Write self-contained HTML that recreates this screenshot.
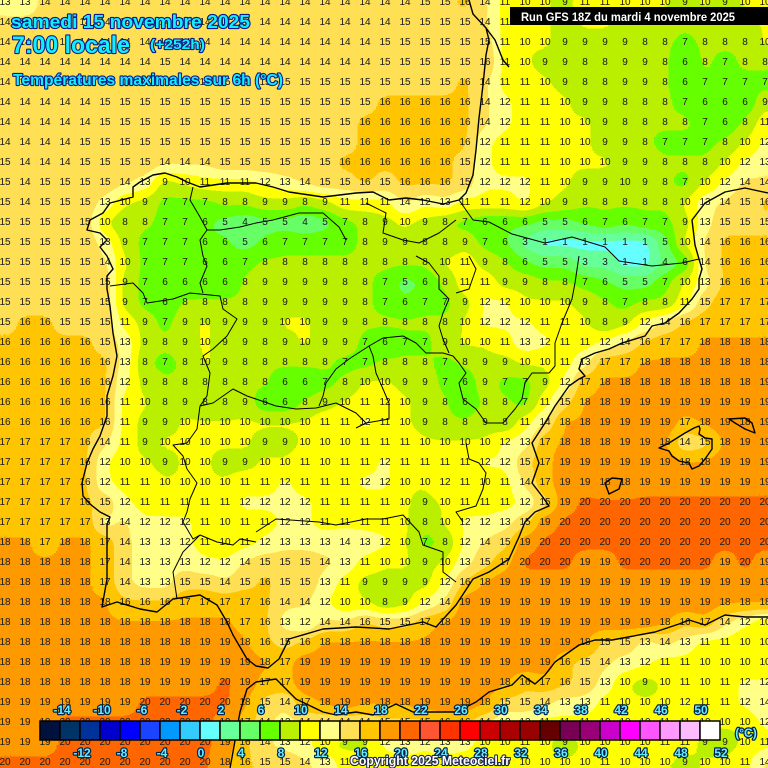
<!DOCTYPE html>
<html><head><meta charset="utf-8">
<style>
html,body{margin:0;padding:0;width:768px;height:768px;overflow:hidden;background:#ffe055}
#w{position:relative;width:768px;height:768px;overflow:hidden}
#g{position:absolute;left:-5px;top:-7px;width:780px;height:780px;filter:url(#F)}
#g div{display:flex;height:20px}
#g i{display:block;flex:none;width:20px;height:20px;font:10px/20px "Liberation Sans",sans-serif;text-align:center;font-style:normal}
[c1]{background:#0e0000;color:#0eff00}
[c2]{background:#180000;color:#18ff00}
[c3]{background:#230000;color:#23ff00}
[c4]{background:#2e0000;color:#2eff00}
[c5]{background:#380000;color:#38ff00}
[c6]{background:#430000;color:#43ff00}
[c7]{background:#4e0000;color:#4eff00}
[c8]{background:#580000;color:#58ff00}
[c9]{background:#630000;color:#63ff00}
[c10]{background:#6d0000;color:#6dff00}
[c11]{background:#780000;color:#78ff00}
[c12]{background:#830000;color:#83ff00}
[c13]{background:#8d0000;color:#8dff00}
[c14]{background:#980000;color:#98ff00}
[c15]{background:#a30000;color:#a3ff00}
[c16]{background:#ad0000;color:#adff00}
[c17]{background:#b80000;color:#b8ff00}
[c18]{background:#c20000;color:#c2ff00}
[c19]{background:#cd0000;color:#cdff00}
[c20]{background:#d80000;color:#d8ff00}
#o{position:absolute;left:0;top:0}
.t{font-family:"Liberation Sans",sans-serif;font-weight:bold;fill:#11eeff;stroke:#0a1a8c;stroke-width:2.2;paint-order:stroke;stroke-linejoin:round}
.l{font-family:"Liberation Sans",sans-serif;font-weight:bold;font-size:12px;fill:#66eeff;stroke:#00204d;stroke-width:2.4;paint-order:stroke;stroke-linejoin:round;text-anchor:middle}
</style></head><body><div id="w">
<svg width="0" height="0" style="position:absolute">
<filter id="F" x="-10%" y="-10%" width="120%" height="120%" color-interpolation-filters="sRGB">
<feColorMatrix in="SourceGraphic" type="matrix" values="1 0 0 0 0 1 0 0 0 0 1 0 0 0 0 0 0 0 1 0" result="v"/>
<feGaussianBlur in="v" stdDeviation="7" result="b"/>
<feComponentTransfer in="b" result="c">
<feFuncR type="discrete" tableValues="0.4 0.4 0.4 0.4 0.733 1 1 1 1 1 1 1"/>
<feFuncG type="discrete" tableValues="1 1 1 1 0.941 1 1 0.878 0.776 0.6 0.4 0.333"/>
<feFuncB type="discrete" tableValues="1 0.6 0.4 0 0 0 0.533 0.333 0 0 0 0.2"/>
<feFuncA type="linear" slope="0" intercept="1"/>
</feComponentTransfer>
<feColorMatrix in="SourceGraphic" type="matrix" values="0 0 0 0 0.12 0 0 0 0 0.12 0 0 0 0 0.12 0 1 0 0 0" result="t"/>
<feMerge><feMergeNode in="c"/><feMergeNode in="t"/></feMerge>
</filter></svg>
<div id="g">
<div><i c13>13</i><i c13>13</i><i c14>14</i><i c14>14</i><i c14>14</i><i c14>14</i><i c14>14</i><i c14>14</i><i c14>14</i><i c14>14</i><i c14>14</i><i c14>14</i><i c14>14</i><i c14>14</i><i c14>14</i><i c14>14</i><i c14>14</i><i c14>14</i><i c14>14</i><i c14>14</i><i c14>14</i><i c15>15</i><i c15>15</i><i c16>16</i><i c14>14</i><i c11>11</i><i c10>10</i><i c10>10</i><i c9>9</i><i c11>11</i><i c11>11</i><i c10>10</i><i c10>10</i><i c10>10</i><i c9>9</i><i c10>10</i><i c9>9</i><i c10>10</i><i c10>10</i></div>
<div><i c14>14</i><i c14>14</i><i c14>14</i><i c14>14</i><i c14>14</i><i c14>14</i><i c14>14</i><i c14>14</i><i c14>14</i><i c14>14</i><i c14>14</i><i c14>14</i><i c14>14</i><i c14>14</i><i c14>14</i><i c14>14</i><i c14>14</i><i c14>14</i><i c14>14</i><i c14>14</i><i c15>15</i><i c15>15</i><i c15>15</i><i c15>15</i><i c14>14</i><i c11>11</i><i c10>10</i><i c10>10</i><i c9>9</i><i c10>10</i><i c10>10</i><i c9>9</i><i c9>9</i><i c9>9</i><i c8>8</i><i c9>9</i><i c8>8</i><i c9>9</i><i c10>10</i></div>
<div><i c14>14</i><i c14>14</i><i c14>14</i><i c14>14</i><i c14>14</i><i c14>14</i><i c14>14</i><i c14>14</i><i c14>14</i><i c14>14</i><i c14>14</i><i c14>14</i><i c14>14</i><i c14>14</i><i c14>14</i><i c14>14</i><i c14>14</i><i c14>14</i><i c14>14</i><i c15>15</i><i c15>15</i><i c15>15</i><i c15>15</i><i c15>15</i><i c15>15</i><i c11>11</i><i c10>10</i><i c10>10</i><i c9>9</i><i c9>9</i><i c9>9</i><i c9>9</i><i c8>8</i><i c8>8</i><i c7>7</i><i c8>8</i><i c8>8</i><i c8>8</i><i c10>10</i></div>
<div><i c14>14</i><i c14>14</i><i c14>14</i><i c14>14</i><i c14>14</i><i c14>14</i><i c14>14</i><i c14>14</i><i c15>15</i><i c14>14</i><i c14>14</i><i c14>14</i><i c14>14</i><i c14>14</i><i c14>14</i><i c14>14</i><i c14>14</i><i c14>14</i><i c14>14</i><i c15>15</i><i c15>15</i><i c15>15</i><i c15>15</i><i c15>15</i><i c16>16</i><i c11>11</i><i c10>10</i><i c9>9</i><i c9>9</i><i c8>8</i><i c8>8</i><i c9>9</i><i c9>9</i><i c8>8</i><i c6>6</i><i c8>8</i><i c7>7</i><i c8>8</i><i c8>8</i></div>
<div><i c14>14</i><i c14>14</i><i c14>14</i><i c14>14</i><i c14>14</i><i c14>14</i><i c14>14</i><i c15>15</i><i c15>15</i><i c15>15</i><i c15>15</i><i c15>15</i><i c15>15</i><i c15>15</i><i c15>15</i><i c15>15</i><i c15>15</i><i c15>15</i><i c15>15</i><i c15>15</i><i c15>15</i><i c15>15</i><i c15>15</i><i c16>16</i><i c14>14</i><i c11>11</i><i c11>11</i><i c10>10</i><i c9>9</i><i c8>8</i><i c8>8</i><i c9>9</i><i c9>9</i><i c8>8</i><i c6>6</i><i c7>7</i><i c7>7</i><i c7>7</i><i c7>7</i></div>
<div><i c14>14</i><i c14>14</i><i c14>14</i><i c14>14</i><i c14>14</i><i c15>15</i><i c15>15</i><i c15>15</i><i c15>15</i><i c15>15</i><i c15>15</i><i c15>15</i><i c15>15</i><i c15>15</i><i c15>15</i><i c15>15</i><i c15>15</i><i c15>15</i><i c15>15</i><i c16>16</i><i c16>16</i><i c16>16</i><i c16>16</i><i c16>16</i><i c14>14</i><i c12>12</i><i c11>11</i><i c11>11</i><i c10>10</i><i c9>9</i><i c9>9</i><i c8>8</i><i c8>8</i><i c8>8</i><i c7>7</i><i c6>6</i><i c6>6</i><i c6>6</i><i c9>9</i></div>
<div><i c14>14</i><i c14>14</i><i c14>14</i><i c14>14</i><i c14>14</i><i c15>15</i><i c15>15</i><i c15>15</i><i c15>15</i><i c15>15</i><i c15>15</i><i c15>15</i><i c15>15</i><i c15>15</i><i c15>15</i><i c15>15</i><i c15>15</i><i c15>15</i><i c16>16</i><i c16>16</i><i c16>16</i><i c16>16</i><i c16>16</i><i c16>16</i><i c14>14</i><i c12>12</i><i c11>11</i><i c11>11</i><i c10>10</i><i c10>10</i><i c9>9</i><i c8>8</i><i c8>8</i><i c8>8</i><i c8>8</i><i c7>7</i><i c6>6</i><i c8>8</i><i c11>11</i></div>
<div><i c14>14</i><i c14>14</i><i c14>14</i><i c14>14</i><i c15>15</i><i c15>15</i><i c15>15</i><i c15>15</i><i c15>15</i><i c15>15</i><i c15>15</i><i c15>15</i><i c15>15</i><i c15>15</i><i c15>15</i><i c15>15</i><i c15>15</i><i c15>15</i><i c16>16</i><i c16>16</i><i c16>16</i><i c16>16</i><i c16>16</i><i c16>16</i><i c12>12</i><i c11>11</i><i c11>11</i><i c11>11</i><i c10>10</i><i c10>10</i><i c9>9</i><i c9>9</i><i c8>8</i><i c7>7</i><i c7>7</i><i c7>7</i><i c8>8</i><i c10>10</i><i c12>12</i></div>
<div><i c15>15</i><i c14>14</i><i c14>14</i><i c14>14</i><i c15>15</i><i c15>15</i><i c15>15</i><i c15>15</i><i c14>14</i><i c14>14</i><i c14>14</i><i c15>15</i><i c15>15</i><i c15>15</i><i c15>15</i><i c15>15</i><i c15>15</i><i c16>16</i><i c16>16</i><i c16>16</i><i c16>16</i><i c16>16</i><i c16>16</i><i c15>15</i><i c12>12</i><i c11>11</i><i c11>11</i><i c11>11</i><i c10>10</i><i c10>10</i><i c10>10</i><i c9>9</i><i c9>9</i><i c8>8</i><i c8>8</i><i c8>8</i><i c10>10</i><i c12>12</i><i c13>13</i></div>
<div><i c15>15</i><i c14>14</i><i c15>15</i><i c15>15</i><i c15>15</i><i c15>15</i><i c14>14</i><i c13>13</i><i c9>9</i><i c10>10</i><i c11>11</i><i c11>11</i><i c11>11</i><i c12>12</i><i c13>13</i><i c14>14</i><i c15>15</i><i c15>15</i><i c16>16</i><i c15>15</i><i c16>16</i><i c16>16</i><i c16>16</i><i c15>15</i><i c12>12</i><i c12>12</i><i c12>12</i><i c11>11</i><i c10>10</i><i c9>9</i><i c9>9</i><i c10>10</i><i c9>9</i><i c8>8</i><i c7>7</i><i c10>10</i><i c12>12</i><i c14>14</i><i c14>14</i></div>
<div><i c15>15</i><i c14>14</i><i c15>15</i><i c15>15</i><i c15>15</i><i c13>13</i><i c10>10</i><i c9>9</i><i c7>7</i><i c7>7</i><i c7>7</i><i c8>8</i><i c8>8</i><i c9>9</i><i c9>9</i><i c8>8</i><i c9>9</i><i c11>11</i><i c11>11</i><i c11>11</i><i c14>14</i><i c12>12</i><i c13>13</i><i c11>11</i><i c11>11</i><i c11>11</i><i c12>12</i><i c10>10</i><i c9>9</i><i c8>8</i><i c8>8</i><i c8>8</i><i c8>8</i><i c8>8</i><i c10>10</i><i c13>13</i><i c14>14</i><i c15>15</i><i c16>16</i></div>
<div><i c15>15</i><i c15>15</i><i c15>15</i><i c15>15</i><i c15>15</i><i c10>10</i><i c8>8</i><i c8>8</i><i c7>7</i><i c7>7</i><i c6>6</i><i c5>5</i><i c4>4</i><i c5>5</i><i c5>5</i><i c4>4</i><i c5>5</i><i c7>7</i><i c8>8</i><i c9>9</i><i c10>10</i><i c9>9</i><i c8>8</i><i c7>7</i><i c6>6</i><i c6>6</i><i c6>6</i><i c5>5</i><i c5>5</i><i c6>6</i><i c7>7</i><i c6>6</i><i c7>7</i><i c7>7</i><i c9>9</i><i c13>13</i><i c15>15</i><i c15>15</i><i c15>15</i></div>
<div><i c15>15</i><i c15>15</i><i c15>15</i><i c15>15</i><i c15>15</i><i c13>13</i><i c9>9</i><i c7>7</i><i c7>7</i><i c7>7</i><i c6>6</i><i c6>6</i><i c5>5</i><i c6>6</i><i c7>7</i><i c7>7</i><i c7>7</i><i c7>7</i><i c8>8</i><i c9>9</i><i c9>9</i><i c8>8</i><i c8>8</i><i c9>9</i><i c7>7</i><i c6>6</i><i c3>3</i><i c1>1</i><i c1>1</i><i c1>1</i><i c1>1</i><i c1>1</i><i c1>1</i><i c5>5</i><i c10>10</i><i c14>14</i><i c16>16</i><i c16>16</i><i c16>16</i></div>
<div><i c15>15</i><i c15>15</i><i c15>15</i><i c15>15</i><i c15>15</i><i c14>14</i><i c10>10</i><i c7>7</i><i c7>7</i><i c7>7</i><i c6>6</i><i c6>6</i><i c7>7</i><i c8>8</i><i c8>8</i><i c8>8</i><i c8>8</i><i c8>8</i><i c8>8</i><i c8>8</i><i c8>8</i><i c8>8</i><i c10>10</i><i c11>11</i><i c9>9</i><i c8>8</i><i c6>6</i><i c5>5</i><i c5>5</i><i c3>3</i><i c3>3</i><i c1>1</i><i c1>1</i><i c4>4</i><i c6>6</i><i c14>14</i><i c16>16</i><i c16>16</i><i c16>16</i></div>
<div><i c15>15</i><i c15>15</i><i c15>15</i><i c15>15</i><i c15>15</i><i c15>15</i><i c9>9</i><i c7>7</i><i c6>6</i><i c6>6</i><i c6>6</i><i c6>6</i><i c8>8</i><i c9>9</i><i c9>9</i><i c9>9</i><i c9>9</i><i c8>8</i><i c8>8</i><i c7>7</i><i c5>5</i><i c6>6</i><i c8>8</i><i c11>11</i><i c11>11</i><i c9>9</i><i c9>9</i><i c8>8</i><i c8>8</i><i c7>7</i><i c6>6</i><i c5>5</i><i c5>5</i><i c7>7</i><i c10>10</i><i c13>13</i><i c16>16</i><i c16>16</i><i c17>17</i></div>
<div><i c15>15</i><i c15>15</i><i c15>15</i><i c15>15</i><i c15>15</i><i c15>15</i><i c9>9</i><i c7>7</i><i c6>6</i><i c8>8</i><i c8>8</i><i c8>8</i><i c8>8</i><i c9>9</i><i c9>9</i><i c9>9</i><i c9>9</i><i c9>9</i><i c8>8</i><i c7>7</i><i c6>6</i><i c7>7</i><i c7>7</i><i c9>9</i><i c12>12</i><i c12>12</i><i c10>10</i><i c10>10</i><i c10>10</i><i c9>9</i><i c8>8</i><i c7>7</i><i c8>8</i><i c8>8</i><i c11>11</i><i c15>15</i><i c17>17</i><i c17>17</i><i c17>17</i></div>
<div><i c15>15</i><i c16>16</i><i c16>16</i><i c15>15</i><i c15>15</i><i c15>15</i><i c11>11</i><i c9>9</i><i c7>7</i><i c9>9</i><i c10>10</i><i c9>9</i><i c9>9</i><i c9>9</i><i c10>10</i><i c10>10</i><i c9>9</i><i c9>9</i><i c8>8</i><i c8>8</i><i c8>8</i><i c8>8</i><i c8>8</i><i c10>10</i><i c12>12</i><i c12>12</i><i c12>12</i><i c11>11</i><i c11>11</i><i c10>10</i><i c8>8</i><i c9>9</i><i c12>12</i><i c14>14</i><i c16>16</i><i c17>17</i><i c17>17</i><i c17>17</i><i c17>17</i></div>
<div><i c16>16</i><i c16>16</i><i c16>16</i><i c16>16</i><i c16>16</i><i c15>15</i><i c13>13</i><i c9>9</i><i c8>8</i><i c9>9</i><i c10>10</i><i c9>9</i><i c9>9</i><i c8>8</i><i c9>9</i><i c10>10</i><i c9>9</i><i c9>9</i><i c7>7</i><i c6>6</i><i c7>7</i><i c7>7</i><i c9>9</i><i c10>10</i><i c10>10</i><i c11>11</i><i c13>13</i><i c12>12</i><i c11>11</i><i c11>11</i><i c12>12</i><i c14>14</i><i c16>16</i><i c17>17</i><i c17>17</i><i c18>18</i><i c18>18</i><i c18>18</i><i c18>18</i></div>
<div><i c16>16</i><i c16>16</i><i c16>16</i><i c16>16</i><i c16>16</i><i c16>16</i><i c13>13</i><i c8>8</i><i c7>7</i><i c8>8</i><i c10>10</i><i c9>9</i><i c8>8</i><i c8>8</i><i c8>8</i><i c8>8</i><i c8>8</i><i c7>7</i><i c7>7</i><i c8>8</i><i c8>8</i><i c8>8</i><i c7>7</i><i c8>8</i><i c9>9</i><i c9>9</i><i c10>10</i><i c10>10</i><i c11>11</i><i c13>13</i><i c17>17</i><i c17>17</i><i c18>18</i><i c18>18</i><i c18>18</i><i c18>18</i><i c18>18</i><i c18>18</i><i c18>18</i></div>
<div><i c16>16</i><i c16>16</i><i c16>16</i><i c16>16</i><i c16>16</i><i c16>16</i><i c12>12</i><i c9>9</i><i c8>8</i><i c8>8</i><i c8>8</i><i c8>8</i><i c8>8</i><i c8>8</i><i c6>6</i><i c6>6</i><i c7>7</i><i c8>8</i><i c10>10</i><i c10>10</i><i c9>9</i><i c9>9</i><i c7>7</i><i c6>6</i><i c9>9</i><i c7>7</i><i c7>7</i><i c9>9</i><i c12>12</i><i c17>17</i><i c18>18</i><i c18>18</i><i c18>18</i><i c18>18</i><i c18>18</i><i c18>18</i><i c18>18</i><i c18>18</i><i c19>19</i></div>
<div><i c16>16</i><i c16>16</i><i c16>16</i><i c16>16</i><i c16>16</i><i c16>16</i><i c11>11</i><i c10>10</i><i c8>8</i><i c9>9</i><i c8>8</i><i c8>8</i><i c9>9</i><i c6>6</i><i c6>6</i><i c8>8</i><i c9>9</i><i c10>10</i><i c11>11</i><i c12>12</i><i c10>10</i><i c9>9</i><i c8>8</i><i c6>6</i><i c8>8</i><i c8>8</i><i c7>7</i><i c11>11</i><i c15>15</i><i c18>18</i><i c18>18</i><i c19>19</i><i c19>19</i><i c19>19</i><i c19>19</i><i c19>19</i><i c19>19</i><i c19>19</i><i c19>19</i></div>
<div><i c16>16</i><i c16>16</i><i c16>16</i><i c16>16</i><i c16>16</i><i c16>16</i><i c11>11</i><i c9>9</i><i c9>9</i><i c10>10</i><i c10>10</i><i c10>10</i><i c10>10</i><i c10>10</i><i c10>10</i><i c10>10</i><i c11>11</i><i c11>11</i><i c12>12</i><i c11>11</i><i c10>10</i><i c9>9</i><i c8>8</i><i c8>8</i><i c9>9</i><i c8>8</i><i c11>11</i><i c14>14</i><i c18>18</i><i c18>18</i><i c19>19</i><i c19>19</i><i c19>19</i><i c19>19</i><i c17>17</i><i c18>18</i><i c19>19</i><i c18>18</i><i c19>19</i></div>
<div><i c17>17</i><i c17>17</i><i c17>17</i><i c17>17</i><i c16>16</i><i c14>14</i><i c11>11</i><i c9>9</i><i c10>10</i><i c10>10</i><i c10>10</i><i c10>10</i><i c10>10</i><i c9>9</i><i c9>9</i><i c10>10</i><i c10>10</i><i c10>10</i><i c11>11</i><i c11>11</i><i c11>11</i><i c10>10</i><i c10>10</i><i c10>10</i><i c10>10</i><i c12>12</i><i c13>13</i><i c17>17</i><i c18>18</i><i c18>18</i><i c18>18</i><i c19>19</i><i c19>19</i><i c18>18</i><i c14>14</i><i c15>15</i><i c18>18</i><i c19>19</i><i c19>19</i></div>
<div><i c17>17</i><i c17>17</i><i c17>17</i><i c17>17</i><i c16>16</i><i c12>12</i><i c10>10</i><i c10>10</i><i c9>9</i><i c10>10</i><i c10>10</i><i c9>9</i><i c9>9</i><i c10>10</i><i c10>10</i><i c11>11</i><i c10>10</i><i c11>11</i><i c11>11</i><i c12>12</i><i c11>11</i><i c11>11</i><i c11>11</i><i c11>11</i><i c12>12</i><i c12>12</i><i c15>15</i><i c17>17</i><i c19>19</i><i c19>19</i><i c19>19</i><i c19>19</i><i c19>19</i><i c19>19</i><i c18>18</i><i c18>18</i><i c19>19</i><i c19>19</i><i c19>19</i></div>
<div><i c17>17</i><i c17>17</i><i c17>17</i><i c17>17</i><i c16>16</i><i c12>12</i><i c11>11</i><i c11>11</i><i c10>10</i><i c10>10</i><i c10>10</i><i c10>10</i><i c11>11</i><i c11>11</i><i c12>12</i><i c11>11</i><i c11>11</i><i c11>11</i><i c12>12</i><i c12>12</i><i c10>10</i><i c10>10</i><i c12>12</i><i c11>11</i><i c10>10</i><i c11>11</i><i c14>14</i><i c17>17</i><i c19>19</i><i c19>19</i><i c18>18</i><i c18>18</i><i c19>19</i><i c19>19</i><i c19>19</i><i c19>19</i><i c19>19</i><i c19>19</i><i c19>19</i></div>
<div><i c17>17</i><i c17>17</i><i c17>17</i><i c17>17</i><i c16>16</i><i c15>15</i><i c12>12</i><i c11>11</i><i c11>11</i><i c11>11</i><i c11>11</i><i c11>11</i><i c12>12</i><i c12>12</i><i c12>12</i><i c12>12</i><i c11>11</i><i c11>11</i><i c11>11</i><i c11>11</i><i c10>10</i><i c9>9</i><i c10>10</i><i c11>11</i><i c11>11</i><i c11>11</i><i c12>12</i><i c15>15</i><i c19>19</i><i c20>20</i><i c20>20</i><i c20>20</i><i c20>20</i><i c20>20</i><i c20>20</i><i c20>20</i><i c20>20</i><i c20>20</i><i c20>20</i></div>
<div><i c17>17</i><i c17>17</i><i c17>17</i><i c17>17</i><i c17>17</i><i c13>13</i><i c14>14</i><i c12>12</i><i c12>12</i><i c12>12</i><i c11>11</i><i c10>10</i><i c11>11</i><i c11>11</i><i c12>12</i><i c12>12</i><i c11>11</i><i c11>11</i><i c11>11</i><i c11>11</i><i c10>10</i><i c8>8</i><i c10>10</i><i c12>12</i><i c12>12</i><i c13>13</i><i c15>15</i><i c19>19</i><i c20>20</i><i c20>20</i><i c20>20</i><i c20>20</i><i c20>20</i><i c20>20</i><i c20>20</i><i c20>20</i><i c20>20</i><i c20>20</i><i c20>20</i></div>
<div><i c18>18</i><i c18>18</i><i c17>17</i><i c18>18</i><i c18>18</i><i c17>17</i><i c14>14</i><i c13>13</i><i c13>13</i><i c12>12</i><i c11>11</i><i c10>10</i><i c11>11</i><i c12>12</i><i c13>13</i><i c13>13</i><i c13>13</i><i c14>14</i><i c13>13</i><i c12>12</i><i c10>10</i><i c7>7</i><i c8>8</i><i c12>12</i><i c14>14</i><i c15>15</i><i c19>19</i><i c20>20</i><i c20>20</i><i c20>20</i><i c20>20</i><i c20>20</i><i c20>20</i><i c20>20</i><i c20>20</i><i c20>20</i><i c20>20</i><i c20>20</i><i c20>20</i></div>
<div><i c18>18</i><i c18>18</i><i c18>18</i><i c18>18</i><i c18>18</i><i c17>17</i><i c14>14</i><i c13>13</i><i c13>13</i><i c13>13</i><i c12>12</i><i c12>12</i><i c14>14</i><i c15>15</i><i c15>15</i><i c15>15</i><i c14>14</i><i c13>13</i><i c11>11</i><i c10>10</i><i c10>10</i><i c9>9</i><i c10>10</i><i c13>13</i><i c15>15</i><i c17>17</i><i c20>20</i><i c20>20</i><i c20>20</i><i c19>19</i><i c19>19</i><i c20>20</i><i c20>20</i><i c20>20</i><i c20>20</i><i c20>20</i><i c19>19</i><i c20>20</i><i c19>19</i></div>
<div><i c18>18</i><i c18>18</i><i c18>18</i><i c18>18</i><i c18>18</i><i c17>17</i><i c14>14</i><i c13>13</i><i c13>13</i><i c15>15</i><i c15>15</i><i c14>14</i><i c15>15</i><i c16>16</i><i c15>15</i><i c15>15</i><i c13>13</i><i c11>11</i><i c9>9</i><i c9>9</i><i c9>9</i><i c9>9</i><i c12>12</i><i c16>16</i><i c18>18</i><i c19>19</i><i c19>19</i><i c19>19</i><i c19>19</i><i c19>19</i><i c19>19</i><i c19>19</i><i c19>19</i><i c19>19</i><i c19>19</i><i c19>19</i><i c19>19</i><i c19>19</i><i c19>19</i></div>
<div><i c18>18</i><i c18>18</i><i c18>18</i><i c18>18</i><i c18>18</i><i c18>18</i><i c16>16</i><i c16>16</i><i c16>16</i><i c17>17</i><i c17>17</i><i c17>17</i><i c17>17</i><i c16>16</i><i c14>14</i><i c14>14</i><i c12>12</i><i c10>10</i><i c10>10</i><i c8>8</i><i c9>9</i><i c12>12</i><i c14>14</i><i c19>19</i><i c19>19</i><i c19>19</i><i c19>19</i><i c19>19</i><i c19>19</i><i c19>19</i><i c19>19</i><i c19>19</i><i c19>19</i><i c19>19</i><i c19>19</i><i c19>19</i><i c18>18</i><i c18>18</i><i c18>18</i></div>
<div><i c18>18</i><i c18>18</i><i c18>18</i><i c18>18</i><i c18>18</i><i c18>18</i><i c18>18</i><i c18>18</i><i c18>18</i><i c18>18</i><i c18>18</i><i c18>18</i><i c17>17</i><i c16>16</i><i c13>13</i><i c12>12</i><i c14>14</i><i c14>14</i><i c16>16</i><i c15>15</i><i c15>15</i><i c17>17</i><i c18>18</i><i c19>19</i><i c19>19</i><i c19>19</i><i c19>19</i><i c19>19</i><i c19>19</i><i c19>19</i><i c19>19</i><i c19>19</i><i c19>19</i><i c18>18</i><i c16>16</i><i c17>17</i><i c14>14</i><i c12>12</i><i c10>10</i></div>
<div><i c18>18</i><i c18>18</i><i c18>18</i><i c18>18</i><i c18>18</i><i c18>18</i><i c18>18</i><i c18>18</i><i c18>18</i><i c18>18</i><i c19>19</i><i c19>19</i><i c18>18</i><i c16>16</i><i c15>15</i><i c16>16</i><i c18>18</i><i c18>18</i><i c18>18</i><i c18>18</i><i c18>18</i><i c18>18</i><i c19>19</i><i c19>19</i><i c19>19</i><i c19>19</i><i c19>19</i><i c19>19</i><i c19>19</i><i c18>18</i><i c15>15</i><i c15>15</i><i c13>13</i><i c14>14</i><i c13>13</i><i c11>11</i><i c11>11</i><i c10>10</i><i c10>10</i></div>
<div><i c18>18</i><i c18>18</i><i c18>18</i><i c18>18</i><i c18>18</i><i c18>18</i><i c18>18</i><i c18>18</i><i c19>19</i><i c19>19</i><i c19>19</i><i c19>19</i><i c19>19</i><i c18>18</i><i c17>17</i><i c19>19</i><i c19>19</i><i c19>19</i><i c19>19</i><i c19>19</i><i c19>19</i><i c19>19</i><i c19>19</i><i c19>19</i><i c19>19</i><i c19>19</i><i c19>19</i><i c19>19</i><i c16>16</i><i c15>15</i><i c14>14</i><i c13>13</i><i c12>12</i><i c11>11</i><i c11>11</i><i c10>10</i><i c10>10</i><i c10>10</i><i c10>10</i></div>
<div><i c18>18</i><i c18>18</i><i c18>18</i><i c18>18</i><i c18>18</i><i c18>18</i><i c18>18</i><i c19>19</i><i c19>19</i><i c19>19</i><i c19>19</i><i c20>20</i><i c19>19</i><i c17>17</i><i c17>17</i><i c19>19</i><i c19>19</i><i c19>19</i><i c19>19</i><i c19>19</i><i c19>19</i><i c19>19</i><i c19>19</i><i c19>19</i><i c19>19</i><i c18>18</i><i c16>16</i><i c17>17</i><i c16>16</i><i c15>15</i><i c13>13</i><i c10>10</i><i c9>9</i><i c10>10</i><i c11>11</i><i c10>10</i><i c11>11</i><i c12>12</i><i c12>12</i></div>
<div><i c19>19</i><i c19>19</i><i c19>19</i><i c19>19</i><i c19>19</i><i c19>19</i><i c19>19</i><i c20>20</i><i c20>20</i><i c20>20</i><i c20>20</i><i c20>20</i><i c18>18</i><i c15>15</i><i c14>14</i><i c17>17</i><i c18>18</i><i c19>19</i><i c18>18</i><i c18>18</i><i c18>18</i><i c19>19</i><i c19>19</i><i c19>19</i><i c18>18</i><i c15>15</i><i c15>15</i><i c14>14</i><i c13>13</i><i c13>13</i><i c11>11</i><i c10>10</i><i c10>10</i><i c10>10</i><i c12>12</i><i c11>11</i><i c11>11</i><i c12>12</i><i c14>14</i></div>
<div><i c19>19</i><i c19>19</i><i c19>19</i><i c20>20</i><i c20>20</i><i c20>20</i><i c20>20</i><i c20>20</i><i c20>20</i><i c20>20</i><i c20>20</i><i c19>19</i><i c17>17</i><i c14>14</i><i c13>13</i><i c14>14</i><i c14>14</i><i c14>14</i><i c14>14</i><i c15>15</i><i c15>15</i><i c15>15</i><i c16>16</i><i c16>16</i><i c14>14</i><i c12>12</i><i c12>12</i><i c11>11</i><i c11>11</i><i c11>11</i><i c10>10</i><i c10>10</i><i c10>10</i><i c11>11</i><i c11>11</i><i c10>10</i><i c10>10</i><i c10>10</i><i c12>12</i></div>
<div><i c19>19</i><i c19>19</i><i c19>19</i><i c20>20</i><i c20>20</i><i c20>20</i><i c20>20</i><i c20>20</i><i c20>20</i><i c20>20</i><i c20>20</i><i c19>19</i><i c16>16</i><i c14>14</i><i c13>13</i><i c12>12</i><i c10>10</i><i c9>9</i><i c9>9</i><i c12>12</i><i c13>13</i><i c12>12</i><i c13>13</i><i c13>13</i><i c10>10</i><i c10>10</i><i c11>11</i><i c10>10</i><i c9>9</i><i c10>10</i><i c10>10</i><i c10>10</i><i c10>10</i><i c11>11</i><i c11>11</i><i c9>9</i><i c9>9</i><i c10>10</i><i c11>11</i></div>
<div><i c20>20</i><i c20>20</i><i c20>20</i><i c20>20</i><i c20>20</i><i c20>20</i><i c20>20</i><i c20>20</i><i c20>20</i><i c20>20</i><i c20>20</i><i c18>18</i><i c16>16</i><i c15>15</i><i c15>15</i><i c14>14</i><i c13>13</i><i c11>11</i><i c11>11</i><i c11>11</i><i c11>11</i><i c11>11</i><i c11>11</i><i c10>10</i><i c10>10</i><i c10>10</i><i c10>10</i><i c10>10</i><i c10>10</i><i c10>10</i><i c11>11</i><i c10>10</i><i c10>10</i><i c10>10</i><i c9>9</i><i c10>10</i><i c10>10</i><i c11>11</i><i c14>14</i></div>
</div>
<svg id="o" width="768" height="768" viewBox="0 0 768 768">
<g fill="none" stroke="#000" stroke-width="1.4" stroke-linejoin="round">
<path d="M469,0 L473,14 L486,28 L489,40 L486,55 L483,85 L479,118 L476,150 L473,175 L466,193 L459,200 L443,204 L423,200 L406,198 L389,200 L373,192 L356,193 L323,197 L289,192 L273,187 L256,183 L227,183 L200,187 L187,182 L177,177 L165,173 L153,175 L140,182 L133,187 L133,197 L110,203 L103,213 L90,220 L87,230 L100,233 L107,240 L100,247 L107,256 L113,269 L107,276 L107,289 L110,306 L113,333 L117,356 L113,376 L107,396 L107,416 L100,436 L93,449 L87,463 L82,483 L83,496 L90,504 L100,512 L110,517 L107,525 L107,552 L107,579 L102,607 L117,602 L140,609 L157,612 L173,599 L200,595 L217,605 L227,622 L233,635 L247,659 L256,666 L268,668 L279,659 L289,639 L323,629 L356,627 L389,629 L423,622 L436,627 L456,605 L473,579 L489,572 L509,559 L519,537 L525,522 L535,512 L549,506 L542,496 L532,483 L539,463 L532,443 L545,423 L555,406 L569,386 L579,379 L585,376 L579,369 L582,359 L595,353 L609,349 L622,343 L645,336 L652,326 L665,323 L679,313 L692,299 L699,289 L699,279 L702,269 L699,259 L695,245 L692,220 L705,203 L725,192 L745,188 L768,193"/>
<path d="M486,28 L495,40 L503,60 L509,67"/>
<path d="M230,768 L233,752 L240,712 L247,689 L256,682 L276,679 L289,692 L296,699 L323,712 L336,715 L356,712 L373,715 L396,704 L413,712 L456,712 L476,702 L489,692 L512,685 L522,675 L535,684 L545,675 L555,662 L579,645 L595,640 L612,640 L655,632 L679,624 L689,620 L705,625 L725,615 L745,617 L768,617"/>
<path d="M659,448 L669,443 L685,433 L694,428 L699,426 L700,429 L699,434 L705,438 L712,439 L712,449 L705,459 L699,466 L692,469 L689,463 L679,461 L672,456 L669,451 Z"/>
<path d="M729,419 L745,418 L752,423 L755,433 L745,429 L735,423 Z"/>
<path d="M605,483 L612,478 L622,479 L619,489 L609,494 Z"/>
</g>
<g fill="none" stroke="#000" stroke-width="1" stroke-linejoin="round">
<path d="M110,286 L133,283 L143,293 L147,303 L173,299 L190,293 L220,296 L223,309 L237,319 L227,336 L213,349 L203,356 L210,373 L207,396 L200,406 L197,429 L187,443 L173,445 L183,456 L187,469 L197,483 L190,499 L187,512 L183,522 L193,539 L200,535 L183,552 L173,572 L177,599"/>
<path d="M459,200 L473,220 L489,222 L512,234 L545,243 L572,237 L605,247 L619,261 L652,266 L682,263 L699,259"/>
<path d="M193,187 L190,200 L200,217 L207,230 L200,240 L203,256 L207,266 L200,283 L203,293"/>
<path d="M207,230 L220,230 L240,227 L256,223 L273,220 L299,213 L323,213 L339,227 L346,240"/>
<path d="M366,203 L386,213 L383,233 L403,240 L419,243 L439,233 L456,220"/>
<path d="M200,406 L213,403 L233,389 L247,396 L256,399 L276,406 L296,409 L316,408 L336,403 L356,413 L366,423 L356,428"/>
<path d="M319,406 L323,396 L326,383 L336,369 L349,359 L369,346 L383,338 L403,336 L416,343 L426,353 L443,353 L453,356 L459,363 L466,373 L459,383 L463,399 L476,409 L486,423 L503,423"/>
<path d="M366,423 L389,419 L389,403 L383,389 L376,373 L373,356 L369,346"/>
<path d="M416,256 L429,263 L439,276 L439,289 L449,299 L443,313 L439,326 L443,339 L449,353"/>
<path d="M469,256 L476,269 L469,289 L456,293"/>
<path d="M579,256 L575,283 L572,299 L562,323 L555,343 L555,366 L549,373 L532,373 L525,383 L522,399 L515,409 L503,423"/>
<path d="M466,443 L469,459 L479,463 L486,473 L483,489 L476,506 L456,512 L463,522"/>
<path d="M256,542 L240,539 L233,545 L217,542 L200,535"/>
<path d="M256,532 L276,519 L319,522 L336,525 L366,519 L383,519 L403,515 L419,532 L423,545 L443,552 L443,572 L456,582"/>
</g>
<rect x="510" y="7" width="258" height="18" fill="#000"/>
<text x="521" y="21" font-family="Liberation Sans, sans-serif" font-weight="bold" font-size="11.5" fill="#fff" textLength="214" lengthAdjust="spacingAndGlyphs">Run GFS 18Z du mardi 4 novembre 2025</text>
<text class="t" x="11" y="28" font-size="18" textLength="239" lengthAdjust="spacingAndGlyphs">samedi 15 novembre 2025</text>
<text class="t" x="12" y="53" font-size="24" textLength="118" lengthAdjust="spacingAndGlyphs">7:00 locale</text>
<text class="t" x="150" y="49" font-size="14" textLength="55" lengthAdjust="spacingAndGlyphs">(+252h)</text>
<text class="t" x="13" y="85" font-size="16" textLength="270" lengthAdjust="spacingAndGlyphs">Températures maximales sur 6h (°C)</text>
<g stroke="#000" stroke-width="1.5">
<rect x="40" y="721" width="20" height="19" fill="#00113d"/><rect x="60" y="721" width="20" height="19" fill="#003366"/><rect x="80" y="721" width="20" height="19" fill="#003399"/><rect x="100" y="721" width="20" height="19" fill="#0000cc"/><rect x="120" y="721" width="20" height="19" fill="#0000ff"/><rect x="140" y="721" width="20" height="19" fill="#1a44ff"/><rect x="160" y="721" width="20" height="19" fill="#0099ff"/><rect x="180" y="721" width="20" height="19" fill="#33ccff"/><rect x="200" y="721" width="20" height="19" fill="#66ffff"/><rect x="220" y="721" width="20" height="19" fill="#66ff99"/><rect x="240" y="721" width="20" height="19" fill="#66ff66"/><rect x="260" y="721" width="20" height="19" fill="#66ff00"/><rect x="280" y="721" width="20" height="19" fill="#bbf000"/><rect x="300" y="721" width="20" height="19" fill="#ffff00"/><rect x="320" y="721" width="20" height="19" fill="#ffff88"/><rect x="340" y="721" width="20" height="19" fill="#ffe055"/><rect x="360" y="721" width="20" height="19" fill="#ffc600"/><rect x="380" y="721" width="20" height="19" fill="#ff9900"/><rect x="400" y="721" width="20" height="19" fill="#ff6600"/><rect x="420" y="721" width="20" height="19" fill="#ff5533"/><rect x="440" y="721" width="20" height="19" fill="#ff3300"/><rect x="460" y="721" width="20" height="19" fill="#ff0000"/><rect x="480" y="721" width="20" height="19" fill="#cc0000"/><rect x="500" y="721" width="20" height="19" fill="#aa0000"/><rect x="520" y="721" width="20" height="19" fill="#990000"/><rect x="540" y="721" width="20" height="19" fill="#660000"/><rect x="560" y="721" width="20" height="19" fill="#770055"/><rect x="580" y="721" width="20" height="19" fill="#990077"/><rect x="600" y="721" width="20" height="19" fill="#cc00cc"/><rect x="620" y="721" width="20" height="19" fill="#ff00ff"/><rect x="640" y="721" width="20" height="19" fill="#ff55ff"/><rect x="660" y="721" width="20" height="19" fill="#ff99ff"/><rect x="680" y="721" width="20" height="19" fill="#ffbbff"/><rect x="700" y="721" width="20" height="19" fill="#ffffff"/>
</g>
<g class="l">
<text x="62" y="714">-14</text><text x="102" y="714">-10</text><text x="142" y="714">-6</text><text x="182" y="714">-2</text><text x="221" y="714">2</text><text x="261" y="714">6</text><text x="301" y="714">10</text><text x="341" y="714">14</text><text x="381" y="714">18</text><text x="421" y="714">22</text><text x="461" y="714">26</text><text x="501" y="714">30</text><text x="541" y="714">34</text><text x="581" y="714">38</text><text x="621" y="714">42</text><text x="661" y="714">46</text><text x="701" y="714">50</text>
<text x="82" y="757">-12</text><text x="122" y="757">-8</text><text x="162" y="757">-4</text><text x="201" y="757">0</text><text x="241" y="757">4</text><text x="281" y="757">8</text><text x="321" y="757">12</text><text x="361" y="757">16</text><text x="401" y="757">20</text><text x="441" y="757">24</text><text x="481" y="757">28</text><text x="521" y="757">32</text><text x="561" y="757">36</text><text x="601" y="757">40</text><text x="641" y="757">44</text><text x="681" y="757">48</text><text x="721" y="757">52</text>
<text x="746" y="737">(°C)</text>
</g>
<text x="350" y="765" font-family="Liberation Sans, sans-serif" font-weight="bold" font-size="13" fill="#fff" stroke="#1a2450" stroke-width="2.2" paint-order="stroke" stroke-linejoin="round" textLength="160" lengthAdjust="spacingAndGlyphs">Copyright 2025 Meteociel.fr</text>
</svg>
</div></body></html>
